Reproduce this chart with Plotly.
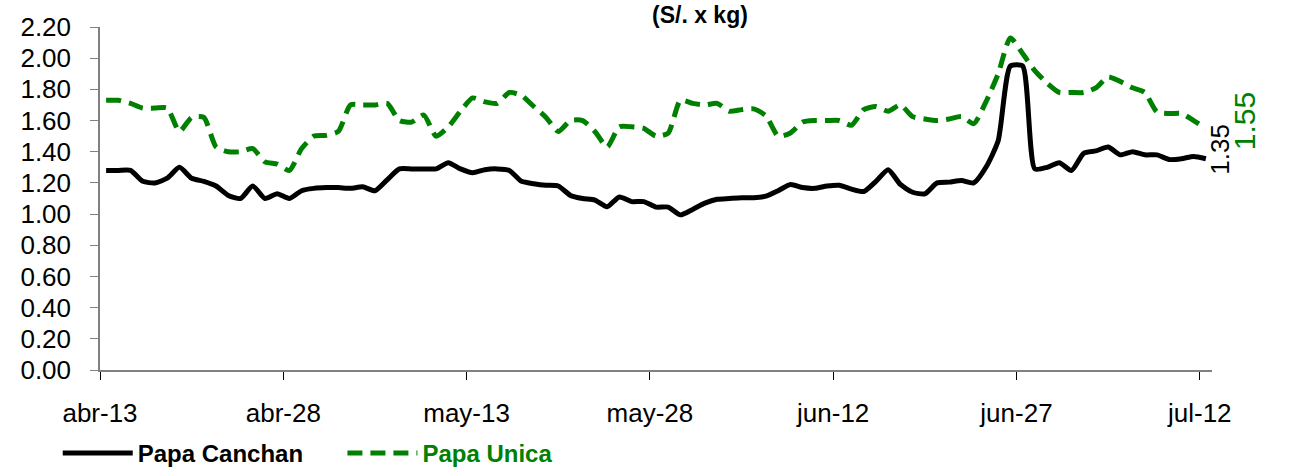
import pandas as pd
import plotly.graph_objects as go

# Daily wholesale prices (S/. x kg), 13 Apr - 12 Jul
start_date = "2023-04-13"
n_days = 91

papa_canchan = [
    1.28, 1.28, 1.28, 1.21, 1.20, 1.23, 1.30, 1.23, 1.21, 1.18,
    1.12, 1.10, 1.18, 1.10, 1.13, 1.10, 1.15, 1.165, 1.17, 1.17,
    1.165, 1.175, 1.15, 1.22, 1.29, 1.29, 1.29, 1.29, 1.33, 1.29,
    1.265, 1.285, 1.29, 1.28, 1.21, 1.195, 1.185, 1.18, 1.12, 1.10,
    1.09, 1.047, 1.11, 1.08, 1.08, 1.045, 1.045, 0.995, 1.03, 1.07,
    1.095, 1.10, 1.105, 1.105, 1.115, 1.15, 1.19, 1.17, 1.165, 1.18,
    1.185, 1.16, 1.145, 1.21, 1.285, 1.19, 1.14, 1.13, 1.20, 1.205,
    1.215, 1.20, 1.30, 1.47, 1.95, 1.95, 1.29, 1.30, 1.33, 1.28,
    1.39, 1.405, 1.43, 1.38, 1.40, 1.38, 1.38, 1.35, 1.355, 1.37,
    1.355,
]

papa_unica = [
    1.73, 1.73, 1.71, 1.68, 1.68, 1.68, 1.53, 1.62, 1.62, 1.43,
    1.40, 1.40, 1.42, 1.335, 1.32, 1.28, 1.42, 1.50, 1.505, 1.53,
    1.70, 1.70, 1.70, 1.71, 1.60, 1.59, 1.635, 1.50, 1.56, 1.66,
    1.745, 1.72, 1.71, 1.78, 1.76, 1.69, 1.62, 1.53, 1.60, 1.60,
    1.53, 1.43, 1.56, 1.56, 1.55, 1.50, 1.52, 1.73, 1.71, 1.70,
    1.71, 1.66, 1.67, 1.675, 1.63, 1.50, 1.52, 1.59, 1.60, 1.60,
    1.60, 1.57, 1.67, 1.69, 1.66, 1.70, 1.625, 1.61, 1.60, 1.61,
    1.625, 1.58, 1.72, 1.90, 2.13, 2.03, 1.92, 1.84, 1.78, 1.78,
    1.78, 1.81, 1.88, 1.85, 1.81, 1.78, 1.655, 1.645, 1.645, 1.60,
    1.55,
]

tick_dates = ["2023-04-13", "2023-04-28", "2023-05-13", "2023-05-28",
              "2023-06-12", "2023-06-27", "2023-07-12"]
tick_labels = ["abr-13", "abr-28", "may-13", "may-28", "jun-12", "jun-27", "jul-12"]
y_ticks = [0.0, 0.2, 0.4, 0.6, 0.8, 1.0, 1.2, 1.4, 1.6, 1.8, 2.0, 2.2]
last_labels = ["1.35", "1.55"]

dates = pd.date_range(start_date, periods=n_days, freq="D")
x_pts = dates + pd.Timedelta(hours=12)  # points centred in each day slot

FONT = "Liberation Sans, Arial, sans-serif"
GREEN = "#008000"

fig = go.Figure()
fig.add_trace(go.Scatter(
    x=x_pts, y=papa_canchan, mode="lines", name="Papa Canchan", legend="legend",
    line=dict(color="black", width=5, shape="spline", smoothing=0.6),
))
fig.add_trace(go.Scatter(
    x=x_pts, y=papa_unica, mode="lines", name="Papa Unica", legend="legend2",
    line=dict(color=GREEN, width=5, dash="15px,8px", shape="spline", smoothing=0.6),
))

fig.add_annotation(x=x_pts[-1], y=papa_canchan[-1], xref="x", yref="y",
                   text=last_labels[0], textangle=-90, showarrow=False,
                   xshift=14, yshift=10, font=dict(family=FONT, size=26, color="black"))
fig.add_annotation(x=x_pts[-1], y=papa_unica[-1], xref="x", yref="y",
                   text=last_labels[1], textangle=-90, showarrow=False,
                   xshift=38, yshift=7, font=dict(family=FONT, size=30, color=GREEN))

fig.add_annotation(x=0.54, y=1.0787, xref="paper", yref="paper",
                   text="<b>(S/. x kg)</b>", showarrow=False, yanchor="top",
                   font=dict(family=FONT, size=23, color="black"))

legend_common = dict(orientation="h", yanchor="middle", xanchor="left",
                     itemwidth=70, bgcolor="rgba(0,0,0,0)", y=-0.243)
fig.update_layout(
    width=1293, height=472,
    margin=dict(l=100, r=81, t=27, b=102, autoexpand=False),
    paper_bgcolor="white", plot_bgcolor="white",
    font=dict(family=FONT, size=26, color="black"),
    showlegend=True,
    legend=dict(x=-0.038, font=dict(family=FONT, size=24, color="black", weight="bold"),
                **legend_common),
    legend2=dict(x=0.218, font=dict(family=FONT, size=24, color=GREEN, weight="bold"),
                 **legend_common),
)
fig.update_xaxes(
    type="date",
    range=[pd.Timestamp(start_date), pd.Timestamp(start_date) + pd.Timedelta(days=n_days)],
    tickvals=pd.to_datetime(tick_dates), ticktext=tick_labels,
    showgrid=False, zeroline=False,
    showline=True, linecolor="#808080", linewidth=1.5,
    ticks="outside", ticklen=8, tickcolor="black", tickwidth=1,
    ticklabelstandoff=11,
    tickfont=dict(family=FONT, size=26, color="black"),
)
fig.update_yaxes(
    range=[0, 2.2], tickvals=y_ticks, tickformat=".2f",
    showgrid=False, zeroline=False,
    showline=True, linecolor="#808080", linewidth=1.5,
    ticks="outside", ticklen=8, tickcolor="#808080", tickwidth=1,
    ticklabelstandoff=14,
    tickfont=dict(family=FONT, size=26, color="black"),
)

fig.write_html("out.html", config={"displayModeBar": False},
               post_script="document.body.style.margin='0';document.body.style.overflow='hidden';")
